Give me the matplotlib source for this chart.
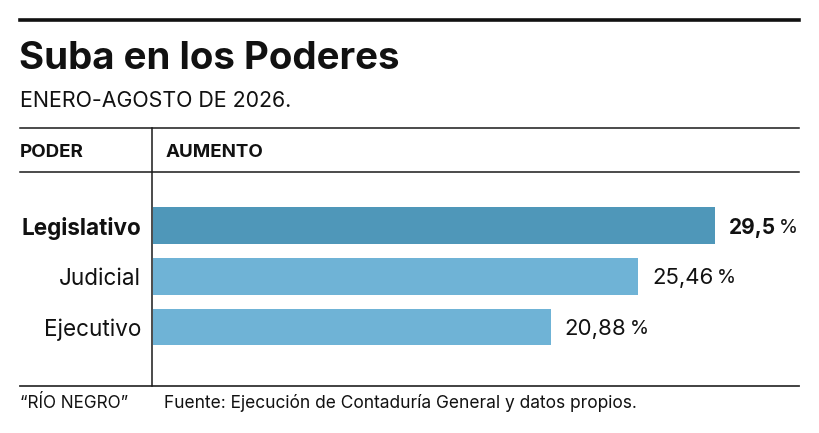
import matplotlib
matplotlib.use("Agg")
import matplotlib.pyplot as plt
from matplotlib.lines import Line2D

# datos
poderes = ["Legislativo", "Judicial", "Ejecutivo"]
aumentos = [29.5, 25.46, 20.88]
etiquetas = ["29,5", "25,46", "20,88"]
destacado = [True, False, False]

titulo = "Suba en los Poderes"
subtitulo = "ENERO-AGOSTO DE 2026."
col_izq = "PODER"
col_der = "AUMENTO"
firma = "\u201cRÍO NEGRO\u201d"
fuente = "Fuente: Ejecución de Contaduría General y datos propios."

W, H = 819, 433
FONT = "Inter"
C_DARK = "#4f97b9"
C_LIGHT = "#6fb3d6"

fig = plt.figure(figsize=(W / 100, H / 100), dpi=100)


def fx(x):
    return x / W


def fy(y):
    return 1 - y / H


def hline(y, x0, x1, lw, color="#1a1a1a"):
    fig.add_artist(Line2D([fx(x0), fx(x1)], [fy(y), fy(y)], lw=lw, color=color,
                          transform=fig.transFigure))


# lineas de la tabla
hline(20, 20, 799, 2.6, "#111111")
hline(128, 20, 799, 1.1)
hline(172, 20, 799, 1.1)
hline(386, 20, 799, 1.3, "#333333")
fig.add_artist(Line2D([fx(152), fx(152)], [fy(128), fy(386)], lw=1.1, color="#1a1a1a",
                      transform=fig.transFigure))

# textos
fig.text(fx(19), fy(69), titulo, fontsize=27.7, fontweight="bold", family=FONT,
         va="baseline", ha="left", color="#111111")
fig.text(fx(20), fy(107), subtitulo, fontsize=15.4, family=FONT,
         va="baseline", ha="left", color="#111111")
fig.text(fx(20), fy(157), col_izq, fontsize=13.5, fontweight="bold", family=FONT,
         va="baseline", ha="left", color="#111111")
fig.text(fx(166), fy(157), col_der, fontsize=13.5, fontweight="bold", family=FONT,
         va="baseline", ha="left", color="#111111")
fig.text(fx(20), fy(408), firma, fontsize=12.3, family=FONT,
         va="baseline", ha="left", color="#111111")
fig.text(fx(164), fy(408), fuente, fontsize=12.5, family=FONT,
         va="baseline", ha="left", color="#111111")

# barras
ax_l, ax_r, ax_t, ax_b = 153, 800, 172, 386
ax = fig.add_axes([fx(ax_l), fy(ax_b), fx(ax_r - ax_l), (ax_b - ax_t) / H])
px_por_unidad = 19.05
ax.set_xlim(0, (ax_r - ax_l) / px_por_unidad)
paso = 50.75
arriba = (225.5 - ax_t) / paso
ax.set_ylim(-arriba + (ax_b - ax_t) / paso, -arriba)
ax.axis("off")

ys = list(range(len(poderes)))
colores = [C_DARK if d else C_LIGHT for d in destacado]
ax.barh(ys, aumentos, height=0.72, color=colores)

fig.canvas.draw()
renderer = fig.canvas.get_renderer()
for y, v, lab, nombre, d in zip(ys, aumentos, etiquetas, poderes, destacado):
    peso = "bold" if d else "normal"
    t = ax.annotate(lab, (v, y), xytext=(14, 0), textcoords="offset pixels",
                    fontsize=15 if d else 16, fontweight=peso, family=FONT,
                    va="center_baseline", ha="left", color="#111111")
    bb = t.get_window_extent(renderer)
    ax.annotate("%", (v, y), xytext=(14 + bb.width + 3, 0), textcoords="offset pixels",
                fontsize=14, family=FONT, va="center_baseline", ha="left", color="#111111")
    ax.annotate(nombre, (0, y), xytext=(-12, 0), textcoords="offset pixels",
                fontsize=16.2, fontweight=peso, family=FONT, va="center_baseline",
                ha="right", color="#111111", annotation_clip=False)

fig.savefig("out.png", dpi=100)
